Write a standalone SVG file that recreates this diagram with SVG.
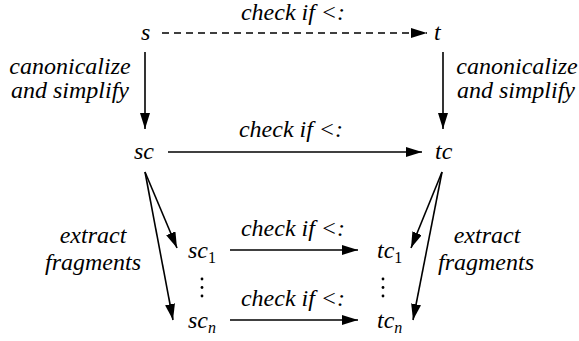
<svg xmlns="http://www.w3.org/2000/svg" width="579" height="341" viewBox="0 0 579 341">
<defs>
<style>
.m{text-anchor:middle}
.e{stroke:#000;stroke-width:1.6;fill:none;marker-end:url(#ah)}
.d{stroke-dasharray:7 5}
</style>
<marker id="ah" markerUnits="userSpaceOnUse" markerWidth="17" markerHeight="11" refX="16" refY="5" orient="auto">
<path d="M0,0 L16,5 L0,10 z" fill="#000"/>
</marker>
</defs>
<rect width="579" height="341" fill="#fff"/>
<g id="connectors">
<line class="e d" x1="162" y1="33" x2="427" y2="33"/>
<line class="e" x1="145" y1="52" x2="145" y2="129"/>
<line class="e" x1="443" y1="52" x2="443" y2="129"/>
<line class="e" x1="168" y1="152" x2="422" y2="152"/>
<line class="e" x1="145" y1="172" x2="177" y2="248"/>
<line class="e" x1="145" y1="172" x2="173" y2="320"/>
<line class="e" x1="442" y1="172" x2="411" y2="248"/>
<line class="e" x1="442" y1="172" x2="413" y2="320"/>
<line class="e" x1="230" y1="250" x2="358" y2="250"/>
<line class="e" x1="230" y1="320" x2="358" y2="320"/>
</g>
<g font-family="'Liberation Serif', 'Times New Roman', serif" font-style="italic" font-size="24" fill="#000">
<g id="labels">
<text class="m" x="293" y="20">check if &lt;:</text>
<text class="m" x="291" y="137">check if &lt;:</text>
<text class="m" x="293" y="236">check if &lt;:</text>
<text class="m" x="293" y="306">check if &lt;:</text>
<text class="m" x="70" y="74">canonicalize</text>
<text class="m" x="70" y="98">and simplify</text>
<text class="m" x="517" y="74">canonicalize</text>
<text class="m" x="516" y="98">and simplify</text>
<text class="m" x="93" y="243">extract</text>
<text class="m" x="93" y="270">fragments</text>
<text class="m" x="487" y="243">extract</text>
<text class="m" x="486" y="270">fragments</text>
</g>
<g id="s"><text x="141" y="40">s</text></g>
<g id="t"><text x="434" y="40">t</text></g>
<g id="sc"><text x="134" y="159">sc</text></g>
<g id="tc"><text x="435" y="159">tc</text></g>
<g id="sc1"><text x="188" y="258">sc<tspan font-size="16" font-style="normal" dy="5">1</tspan></text></g>
<g id="tc1"><text x="377" y="258">tc<tspan font-size="16" font-style="normal" dy="5">1</tspan></text></g>
<g id="scn"><text x="188" y="328">sc<tspan font-size="16" dy="5">n</tspan></text></g>
<g id="tcn"><text x="377" y="328">tc<tspan font-size="16" dy="5">n</tspan></text></g>
</g>
<g id="dots-left" fill="#000"><circle cx="202" cy="279" r="1.4"/><circle cx="202" cy="287.5" r="1.4"/><circle cx="202" cy="296" r="1.4"/></g>
<g id="dots-right" fill="#000"><circle cx="383" cy="279" r="1.4"/><circle cx="383" cy="287.5" r="1.4"/><circle cx="383" cy="296" r="1.4"/></g>
</svg>
